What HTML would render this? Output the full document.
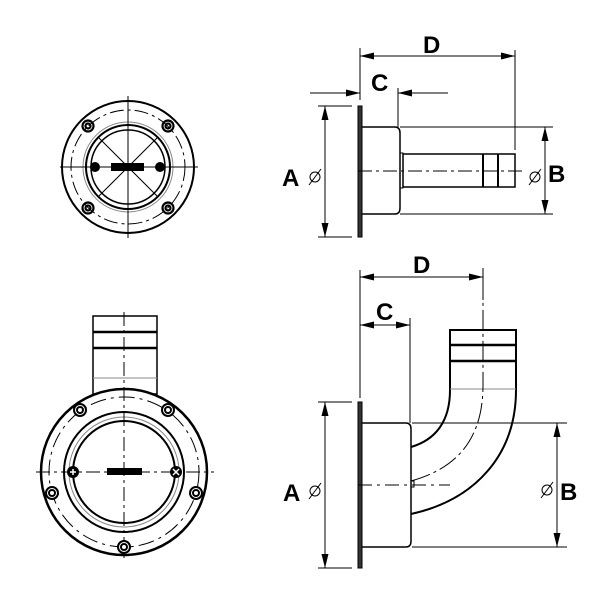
<!DOCTYPE html>
<html><head><meta charset="utf-8"><style>
html,body{margin:0;padding:0;background:#fff;width:600px;height:599px;overflow:hidden}
svg text{font-family:"Liberation Sans",Arial,sans-serif;font-weight:bold;fill:#000}
</style></head><body>
<svg width="600" height="599" viewBox="0 0 600 599" xmlns="http://www.w3.org/2000/svg">
<defs>
<marker id="ar" viewBox="0 0 14 7" refX="14" refY="3.5" markerWidth="14" markerHeight="7" orient="auto-start-reverse" markerUnits="userSpaceOnUse"><path d="M0,0 L14,3.5 L0,7 z" fill="#000"/></marker>
</defs>

<!-- ===== TOP LEFT face view ===== -->
<g fill="none" stroke="#000">
<circle cx="128" cy="167" r="66" stroke-width="2"/>
<circle cx="128" cy="167" r="57" stroke-width="1" stroke-dasharray="14,4,3,4"/>
<circle cx="128" cy="167" r="45" stroke="#888" stroke-width="1"/>
<circle cx="128" cy="167" r="42" stroke-width="2"/>
<circle cx="128" cy="167" r="37" stroke-width="1.5"/>
<line x1="60" y1="167" x2="198" y2="167" stroke-width="1"/>
<line x1="128" y1="96" x2="128" y2="238" stroke-width="1"/>
<line x1="98" y1="137" x2="158" y2="197" stroke-width="1"/>
<line x1="158" y1="137" x2="98" y2="197" stroke-width="1"/>
<g stroke-width="2.2">
<circle cx="88" cy="126" r="5.5"/><circle cx="88" cy="126" r="2.5"/>
<circle cx="168" cy="126" r="5.5"/><circle cx="168" cy="126" r="2.5"/>
<circle cx="88" cy="208" r="5.5"/><circle cx="88" cy="208" r="2.5"/>
<circle cx="168" cy="208" r="5.5"/><circle cx="168" cy="208" r="2.5"/>
</g>
</g>
<circle cx="95" cy="167" r="5" fill="#000"/><circle cx="160" cy="167" r="5" fill="#000"/>
<rect x="111" y="163" width="33" height="8" fill="#000"/>

<!-- ===== TOP RIGHT side view ===== -->
<g fill="none" stroke="#000">
<rect x="358" y="106" width="4" height="131" fill="#333" stroke-width="1"/>
<path d="M362,127 L395,127 Q400,127 400,133 L400,208 Q400,214 395,214 L362,214" stroke-width="1.5"/>
<rect x="400" y="153" width="3" height="35" stroke-width="1"/>
<rect x="403" y="154" width="112" height="33" stroke-width="1.5"/>
<line x1="483" y1="154" x2="483" y2="187" stroke-width="2"/>
<line x1="498" y1="154" x2="498" y2="187" stroke-width="2"/>
<line x1="358" y1="171" x2="525" y2="171" stroke-width="1" stroke-dasharray="14,4,3,4"/>
<line x1="360" y1="48" x2="360" y2="100" stroke-width="1"/>
<line x1="515" y1="50" x2="515" y2="150" stroke-width="1"/>
<line x1="360" y1="56" x2="515" y2="56" stroke-width="1" marker-start="url(#ar)" marker-end="url(#ar)"/>
<line x1="310" y1="93" x2="360" y2="93" stroke-width="1" marker-end="url(#ar)"/>
<line x1="448" y1="93" x2="398" y2="93" stroke-width="1" marker-end="url(#ar)"/>
<line x1="398" y1="88" x2="398" y2="127" stroke-width="1"/>
<line x1="318" y1="106" x2="352" y2="106" stroke-width="1"/>
<line x1="318" y1="237" x2="352" y2="237" stroke-width="1"/>
<line x1="325" y1="106" x2="325" y2="237" stroke-width="1" marker-start="url(#ar)" marker-end="url(#ar)"/>
<line x1="400" y1="127" x2="553" y2="127" stroke-width="1"/>
<line x1="400" y1="214" x2="553" y2="214" stroke-width="1"/>
<line x1="545" y1="127" x2="545" y2="214" stroke-width="1" marker-start="url(#ar)" marker-end="url(#ar)"/>
<circle cx="315" cy="177" r="5" stroke-width="1"/><line x1="309" y1="185" x2="321" y2="169" stroke-width="1"/>
<circle cx="535" cy="177" r="5" stroke-width="1"/><line x1="529" y1="185" x2="541" y2="169" stroke-width="1"/>
</g>
<text x="423" y="53" font-size="24">D</text>
<text x="371" y="91" font-size="24">C</text>
<text x="282" y="186" font-size="24">A</text>
<text x="548" y="182" font-size="24">B</text>

<!-- ===== BOTTOM LEFT face view ===== -->
<g fill="none" stroke="#000">
<rect x="93" y="316" width="64" height="78" fill="#fff" stroke-width="1.5"/>
<line x1="93" y1="332" x2="157" y2="332" stroke-width="2.5"/>
<line x1="93" y1="348" x2="157" y2="348" stroke-width="2.5"/>
<line x1="93" y1="378" x2="157" y2="378" stroke="#888" stroke-width="1"/>
<circle cx="124" cy="472" r="83" fill="#fff" stroke-width="2.5"/>
<circle cx="124" cy="472" r="75" stroke-width="1" stroke-dasharray="16,5,3,5"/>
<circle cx="124" cy="472" r="60" stroke-width="2"/>
<circle cx="124" cy="472" r="55" stroke="#888" stroke-width="1"/>
<circle cx="124" cy="472" r="51" stroke-width="2"/>
<line x1="124" y1="312" x2="124" y2="562" stroke-width="1" stroke-dasharray="14,4,3,4"/>
<line x1="36" y1="472" x2="214" y2="472" stroke-width="1" stroke-dasharray="14,4,3,4"/>
<g stroke-width="2" fill="#fff">
<circle cx="80" cy="410" r="6"/><circle cx="80" cy="410" r="3"/>
<circle cx="168" cy="410" r="6"/><circle cx="168" cy="410" r="3"/>
<circle cx="52" cy="493" r="6"/><circle cx="52" cy="493" r="3"/>
<circle cx="196" cy="493" r="6"/><circle cx="196" cy="493" r="3"/>
<circle cx="124" cy="547" r="6"/><circle cx="124" cy="547" r="3"/>
</g>
</g>
<circle cx="73" cy="472" r="6" fill="#000"/><circle cx="176" cy="472" r="6" fill="#000"/>
<path d="M70,472h6M73,469v6M173,469l6,6M179,469l-6,6" stroke="#fff" stroke-width="1.5"/>
<rect x="107" y="468" width="35" height="7" fill="#000"/>

<!-- ===== BOTTOM RIGHT elbow ===== -->
<g fill="none" stroke="#000">
<rect x="358" y="402" width="4" height="166" fill="#333" stroke-width="1"/>
<path d="M362,423 L406,423 Q411,423 411,429 L411,541 Q411,547 406,547 L362,547" stroke-width="1.5"/>
<path d="M411,514 C475,500 516,455 516,390 L516,330 L450,330 L450,390 C450,422 435,440 411,447" stroke-width="2"/>
<line x1="450" y1="345" x2="516" y2="345" stroke-width="2.5"/>
<line x1="450" y1="361" x2="516" y2="361" stroke-width="2.5"/>
<line x1="450" y1="389" x2="516" y2="389" stroke="#888" stroke-width="1"/>
<path d="M411,481 C458,468 483,438 483,385 L483,300" stroke-width="1" stroke-dasharray="20,4,3,4"/>
<rect x="411" y="481" width="3" height="6" stroke-width="1"/>
<line x1="358" y1="485" x2="450" y2="485" stroke-width="1" stroke-dasharray="14,5,3,5"/>
<line x1="360" y1="270" x2="360" y2="398" stroke-width="1"/>
<line x1="483" y1="268" x2="483" y2="300" stroke-width="1"/>
<line x1="360" y1="277" x2="483" y2="277" stroke-width="1" marker-start="url(#ar)" marker-end="url(#ar)"/>
<line x1="410" y1="318" x2="410" y2="423" stroke-width="1"/>
<line x1="360" y1="325" x2="410" y2="325" stroke-width="1" marker-start="url(#ar)" marker-end="url(#ar)"/>
<line x1="318" y1="402" x2="352" y2="402" stroke-width="1"/>
<line x1="318" y1="568" x2="352" y2="568" stroke-width="1"/>
<line x1="325" y1="402" x2="325" y2="568" stroke-width="1" marker-start="url(#ar)" marker-end="url(#ar)"/>
<line x1="412" y1="423" x2="567" y2="423" stroke-width="1"/>
<line x1="412" y1="547" x2="567" y2="547" stroke-width="1"/>
<line x1="557" y1="423" x2="557" y2="547" stroke-width="1" marker-start="url(#ar)" marker-end="url(#ar)"/>
<circle cx="315" cy="491" r="5" stroke-width="1"/><line x1="309" y1="499" x2="321" y2="483" stroke-width="1"/>
<circle cx="547" cy="490" r="5" stroke-width="1"/><line x1="541" y1="498" x2="553" y2="482" stroke-width="1"/>
</g>
<text x="413" y="273" font-size="24">D</text>
<text x="376" y="320" font-size="24">C</text>
<text x="283" y="501" font-size="24">A</text>
<text x="560" y="500" font-size="24">B</text>
</svg>
</body></html>
